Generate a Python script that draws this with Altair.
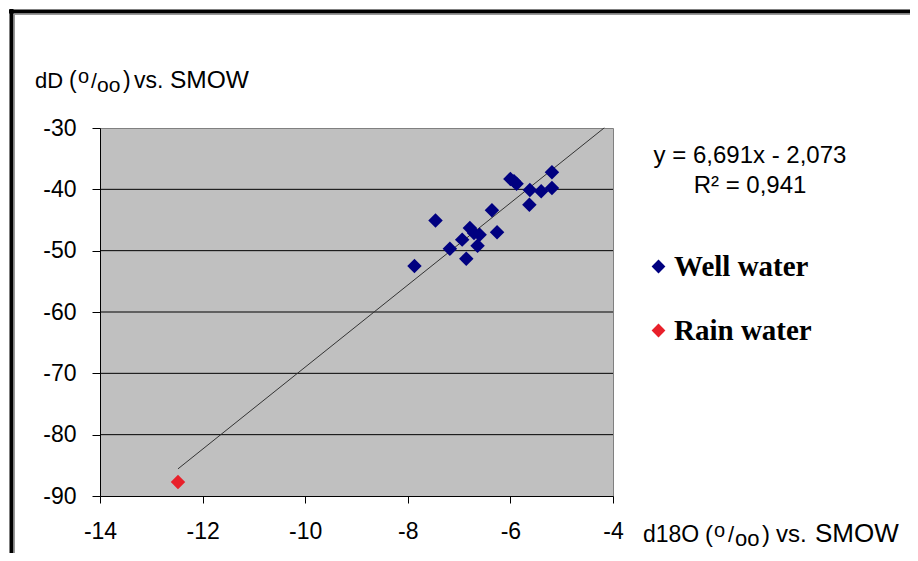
import altair as alt
import pandas as pd

# ---- data ----
well_x = [-7.87, -7.46, -7.18, -6.94, -6.86, -6.79, -6.71, -6.60, -6.64, -6.36,
          -6.26, -6.00, -5.93, -5.88, -5.62, -5.63, -5.40, -5.19, -5.19]
well_y = [-52.5, -45.1, -49.7, -48.2, -51.3, -46.3, -47.1, -47.4, -49.2, -43.4,
          -47.0, -38.3, -38.7, -39.1, -40.1, -42.5, -40.3, -37.2, -39.8]
rain_x = [-12.48]
rain_y = [-87.7]
series = ["Well water", "Rain water"]
colors = ["#000080", "#E8202A"]

trend_slope = 6.691
trend_intercept = -2.073
trend_x = [-12.48, -4.17]

x_ticks = [-14, -12, -10, -8, -6, -4]
y_ticks = [-90, -80, -70, -60, -50, -40, -30]
grid_vals = [-40, -50, -60, -70, -80]

eq_line1 = "y = 6,691x - 2,073"
eq_line2 = "R\u00b2 = 0,941"

FONT = "Liberation Sans"

pts = pd.DataFrame({
    "x": well_x + rain_x,
    "y": well_y + rain_y,
    "type": [series[0]] * len(well_x) + [series[1]] * len(rain_x),
})
trend = pd.DataFrame({"x": trend_x,
                      "y": [trend_slope * v + trend_intercept for v in trend_x]})
grid = pd.DataFrame({"y": grid_vals})

xs = alt.Scale(domain=[-14, -4], nice=False, zero=False)
ys = alt.Scale(domain=[-90, -30], nice=False, zero=False)

W, H = 513, 368

xaxis = alt.Axis(values=x_ticks, title=None, grid=False, labelFont=FONT,
                 labelFontSize=23, labelColor="black", tickColor="black",
                 domainColor="black", tickSize=7, labelPadding=17,
                 labelFlush=False, labelOverlap=False,
                 labelExpr="'' + datum.value")
yaxis = alt.Axis(values=y_ticks, title=None, grid=False, labelFont=FONT,
                 labelFontSize=23, labelColor="black", tickColor="black",
                 domainColor="black", tickSize=8, labelPadding=16,
                 labelFlush=False, labelOverlap=False,
                 labelExpr="'' + datum.value")

gridlines = alt.Chart(grid).mark_rule(color="black", strokeWidth=1).encode(
    y=alt.Y("y:Q", scale=ys, axis=yaxis)
)

trendline = alt.Chart(trend).mark_line(color="#333333", strokeWidth=1).encode(
    x=alt.X("x:Q", scale=xs, axis=xaxis),
    y=alt.Y("y:Q", scale=ys, axis=yaxis),
)

points = alt.Chart(pts).mark_point(shape="diamond", filled=True, opacity=1,
                                   size=210).encode(
    x=alt.X("x:Q", scale=xs, axis=xaxis),
    y=alt.Y("y:Q", scale=ys, axis=yaxis),
    color=alt.Color("type:N", scale=alt.Scale(domain=series, range=colors),
                    legend=alt.Legend(title=None, orient="none", legendX=544,
                                      legendY=124, labelFont="Liberation Serif",
                                      labelFontSize=29, labelFontWeight="bold",
                                      labelColor="black", symbolType="diamond",
                                      symbolSize=190, rowPadding=34,
                                      labelOffset=1, padding=0,
                                      symbolStrokeWidth=0)),
)


def text_at(txt, x, y, size=22, align="left", font=FONT):
    return alt.Chart(pd.DataFrame({"t": [txt]})).mark_text(
        font=font, fontSize=size, align=align, baseline="alphabetic",
        color="black").encode(text="t:N", x=alt.value(x), y=alt.value(y))


def rich(pieces, base_y):
    # pieces: (text, page_x, dy, size) ; converted to plot coordinates
    layers = [text_at(t, px - 100, base_y + dy, size) for t, px, dy, size in pieces]
    out = layers[0]
    for l in layers[1:]:
        out = out + l
    return out


y_title = rich([("dD", 35, 0, 22), ("(", 69, 0, 23), ("o", 78, -5, 20),
                ("/", 91, 0, 21), ("oo", 97, 3.5, 21), (")", 123, 0, 23),
                ("vs.", 134, 0, 23), ("SMOW", 170, 0, 24.5)], -40)
x_title = rich([("d18O", 643, 0, 23), ("(", 705, 0, 24), ("o", 714, -5, 20),
                ("/", 728, 0, 22), ("oo", 735, 3.5, 22), (")", 762, 0, 24),
                ("vs.", 776, 0, 24), ("SMOW", 815, 0, 26)], 414)

texts = (y_title + x_title
         + text_at(eq_line1, 650, 35, size=24, align="center")
         + text_at(eq_line2, 650, 65, size=24, align="center"))


def rule_at(x, x2, y, y2, color, width):
    return alt.Chart(pd.DataFrame({"a": [0]})).mark_rule(
        color=color, strokeWidth=width).encode(
        x=alt.value(x), x2=alt.value(x2), y=alt.value(y), y2=alt.value(y2))


border = (rule_at(-91, 810, -116.5, -116.5, "black", 4)
          + rule_at(-88.5, -88.5, -119, 425, "black", 4)
          + rule_at(-86.5, 810, -113.5, -113.5, "#999999", 1)
          + rule_at(-85.5, -85.5, -114, 425, "#999999", 1))

chart = alt.layer(gridlines, trendline, points, texts, border).properties(
    width=W, height=H,
    padding={"left": 92, "top": 120, "right": 297, "bottom": 57},
    autosize=alt.AutoSizeParams(type="none"),
    background="white",
).configure_view(fill="#C0C0C0", stroke="#808080", strokeWidth=1)

chart.save("out.html", embed_options={"renderer": "svg", "actions": False})
